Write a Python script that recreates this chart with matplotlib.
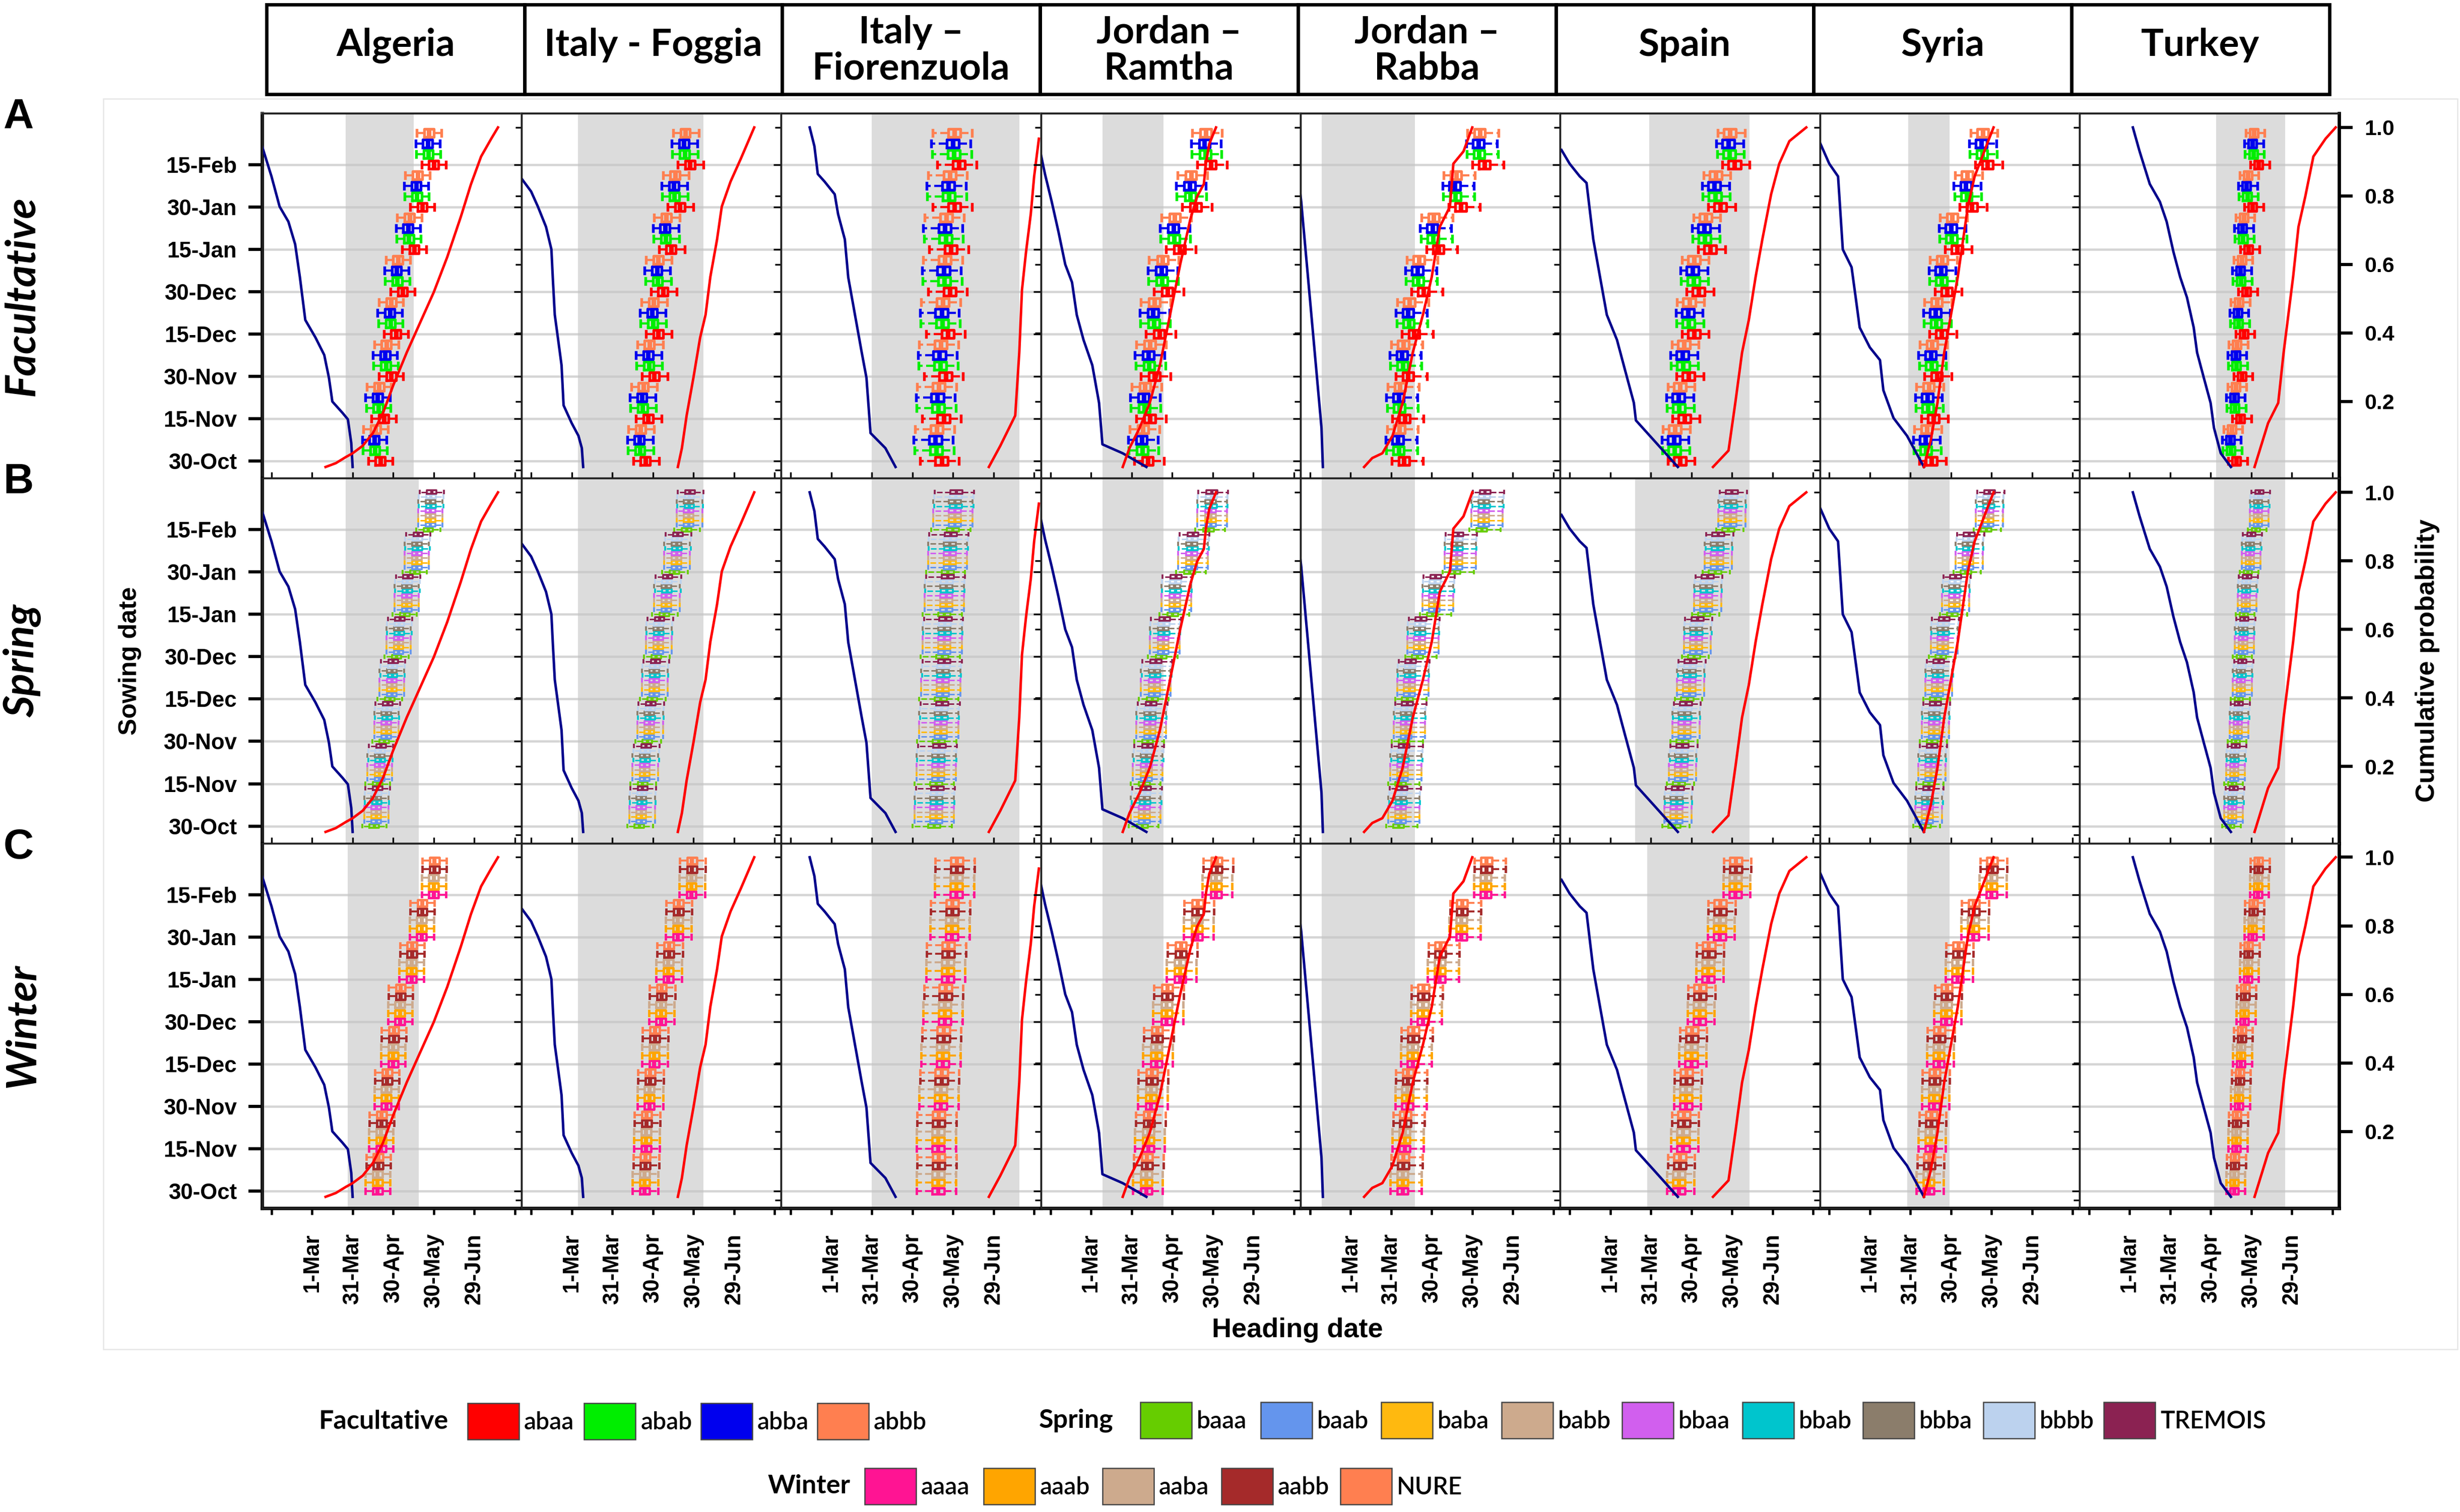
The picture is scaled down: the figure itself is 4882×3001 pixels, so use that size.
"""
Heading date boxplots per site and growth habit, with cumulative
probability curves of the last frost (blue) and heat stress (red).
"""

import matplotlib.pyplot as plt
from matplotlib.patches import Rectangle

plt.rcParams["font.family"] = ["Liberation Sans", "DejaVu Sans"]

# ---------------------------------------------------------------- data
SITES = ["Algeria", "Italy - Foggia", "Italy –\nFiorenzuola", "Jordan –\nRamtha",
         "Jordan –\nRabba", "Spain", "Syria", "Turkey"]
ROWS = ["Facultative", "Spring", "Winter"]
ROW_LETTERS = ["A", "B", "C"]

SOWING_LABELS = ["30-Oct", "15-Nov", "30-Nov", "15-Dec", "30-Dec", "15-Jan", "30-Jan", "15-Feb"]
HEADING_TICKS = [30, 60, 90, 120, 150, 180, 210]          # day of year
HEADING_LABELS = ["", "1-Mar", "31-Mar", "30-Apr", "30-May", "29-Jun", ""]
PROB_TICKS = [0.2, 0.4, 0.6, 0.8, 1.0]

FAC_NAMES = ["abaa", "abab", "abba", "abbb"]
FAC_COLORS = ["#ff0000", "#00ee00", "#0000ee", "#ff7f50"]
SPR_NAMES = ["baaa", "baab", "baba", "babb", "bbaa", "bbab", "bbba", "bbbb", "TREMOIS"]
SPR_COLORS = ["#66cd00", "#6495ed", "#ffb90f", "#cdaa8d", "#d15fee", "#00c5cd",
              "#8b7d6b", "#bcd2ee", "#8b2252"]
WIN_NAMES = ["aaaa", "aaab", "aaba", "aabb", "NURE"]
WIN_COLORS = ["#ff1493", "#ffa500", "#cdaa8d", "#a52a2a", "#ff7f50"]

# genotype shift of the median heading date (days)
FAC_SHIFT = [3, -1, -1.5, -0.5]
SPR_SHIFT = [-1.5, 0, 0, 0, 0, 0.5, 0, 0.5, 1]
WIN_SHIFT = [0, 0, 0, 0.5, 0.5]

# median heading date (day of year) per site and sowing date
MED_FAC = [
    [107.5, 110, 115.5, 119, 124, 132.5, 138.5, 147],
    [111.5, 113.5, 118, 121, 124.5, 130.5, 137, 144.5],
    [138.5, 140, 141.5, 143, 144.5, 145.5, 148, 151.5],
    [99, 100.5, 104, 107.5, 113.5, 122.5, 134.5, 145.5],
    [96.5, 97, 99.5, 104, 111, 122, 138.5, 156],
    [108.5, 112, 115, 119, 122.5, 131, 138.5, 149],
    [102.5, 104, 106.5, 110, 114, 121.5, 132.5, 144],
    [136, 139, 140, 141.5, 143.5, 145, 148, 152.5],
]
MED_SPR = [
    [107.5, 110, 115, 119, 124, 130, 137.5, 147.5],
    [111.5, 114, 117.5, 121, 124, 130, 137.5, 146.5],
    [137.5, 139, 141, 142.5, 143.5, 145, 147.5, 151.5],
    [99.5, 101, 103.5, 107, 113.5, 122, 134.5, 148.5],
    [97, 98.5, 101, 103.5, 111, 122, 138.5, 158.5],
    [109, 112.5, 115, 118.5, 123.5, 131, 139, 149],
    [102.5, 105, 107.5, 110, 114, 122.5, 132.5, 147.5],
    [136, 137.5, 140, 142.5, 144, 146, 149, 155],
]
MED_WIN = [
    [108.5, 111, 115, 120, 125, 133.5, 141, 150],
    [114, 115, 117.5, 121, 126, 131.5, 138.5, 148.5],
    [139, 139, 141, 142.5, 144, 146, 149, 152.5],
    [101, 102.5, 104.5, 108.5, 116, 126, 138.5, 152.5],
    [98.5, 100, 102, 106, 113.5, 126, 142, 160],
    [111, 114, 116, 120, 126, 132.5, 141, 152.5],
    [103.5, 105, 107.5, 111, 116.5, 125, 136.5, 150],
    [137.5, 139, 141, 142.5, 145, 147.5, 151, 155],
]

# box and whisker extent around the median, per site (days)
Q1_OFF = [-3.5, -3.5, -4.5, -4, -4, -4.5, -4, -3]
Q3_OFF = [3.5, 3.5, 4.5, 4, 4, 4.5, 4, 3]
WLO_OFF = [-9, -9, -16, -10, -9, -9, -9, -6]
WHI_OFF = [9, 10, 13, 12, 14, 11, 11, 8]

# optimal flowering window (day of year) per row and site
SHADE_LO = [
    [85, 64.5, 90, 68.5, 38.5, 89, 88.5, 124],
    [85, 64.5, 90, 68.5, 38.5, 78.5, 88.5, 122.5],
    [86.5, 64.5, 90, 68.5, 38.5, 87.5, 87.5, 122.5],
]
SHADE_HI = [
    [135, 157.5, 199, 113.5, 107.5, 163, 119, 175],
    [139, 157.5, 199, 113.5, 107.5, 163, 119, 175],
    [139, 157.5, 199, 113.5, 107.5, 163, 119, 175],
]

# cumulative probability curves: frost (blue) and heat (red)
BLUE_DAY = [
    [22.5, 30, 36, 42.5, 47.5, 51, 55, 62.5, 69, 72.5, 75, 82.5, 86.5, 89, 90],
    [22.5, 30, 35, 41, 45, 46, 47.5, 50, 52.5, 54, 60, 65, 67.5, 68.5],
    [44, 47.5, 50, 55, 62.5, 65, 70, 72.5, 77.5, 82.5, 86, 89, 100, 107.5],
    [22.5, 26, 31, 36, 41, 46, 49.5, 54.5, 61, 66, 68.5, 83.5, 101],
    [22, 23.5, 26, 28.5, 31, 33.5, 36, 38.5, 39.5],
    [24, 30, 37.5, 42.5, 47.5, 52.5, 57.5, 65, 70, 77.5, 79, 92.5, 110],
    [23.5, 30, 36.5, 40, 46.5, 50, 52.5, 60, 67.5, 70, 77.5, 87.5, 100],
    [62.5, 67.5, 75, 82.5, 87.5, 92.5, 97.5, 102.5, 107.5, 110, 115, 120, 122.5, 127.5, 135],
]
BLUE_P = [
    [0.952, 0.857, 0.769, 0.725, 0.659, 0.563, 0.438, 0.387, 0.336, 0.269, 0.2, 0.167, 0.148, 0.079, 0.009],
    [0.853, 0.813, 0.769, 0.71, 0.644, 0.563, 0.453, 0.38, 0.306, 0.189, 0.137, 0.1, 0.064, 0.009],
    [1.0, 0.945, 0.864, 0.842, 0.805, 0.747, 0.673, 0.563, 0.453, 0.343, 0.269, 0.108, 0.064, 0.009],
    [0.93, 0.864, 0.783, 0.695, 0.6, 0.548, 0.453, 0.38, 0.306, 0.196, 0.075, 0.049, 0.009],
    [0.835, 0.783, 0.673, 0.563, 0.453, 0.343, 0.233, 0.123, 0.009],
    [0.934, 0.894, 0.857, 0.838, 0.673, 0.563, 0.453, 0.38, 0.306, 0.196, 0.145, 0.086, 0.009],
    [0.952, 0.894, 0.857, 0.644, 0.592, 0.49, 0.416, 0.358, 0.321, 0.233, 0.152, 0.1, 0.009],
    [1.0, 0.93, 0.835, 0.783, 0.725, 0.637, 0.563, 0.504, 0.416, 0.343, 0.269, 0.196, 0.123, 0.049, 0.009],
]
RED_DAY = [
    [70, 77.5, 85, 90, 97.5, 105, 112.5, 120, 130, 140, 150, 160, 170, 177.5, 185, 192.5, 197.5],
    [138.5, 141.5, 145, 150, 155, 159, 162.5, 167.5, 171, 177.5, 185, 195],
    [176.5, 185, 196, 199, 201, 204, 207.5, 210, 213.5],
    [83.5, 88.5, 96, 103.5, 111, 118.5, 126, 133.5, 138.5, 143.5, 145, 147.5, 152.5],
    [70, 76, 83.5, 91, 98.5, 106, 113.5, 120, 126, 133.5, 136, 143.5, 150],
    [136, 147.5, 152.5, 157.5, 162.5, 167.5, 172.5, 179, 185, 192.5, 205],
    [100, 105, 110, 115, 120, 125, 129, 132.5, 137.5, 142.5, 147.5, 151.5],
    [152.5, 162.5, 170, 174, 177.5, 181, 185, 190, 196, 205, 212.5],
]
RED_P = [
    [0.009, 0.02, 0.038, 0.049, 0.071, 0.108, 0.167, 0.247, 0.343, 0.431, 0.519, 0.622, 0.739, 0.834, 0.915, 0.967, 1.0],
    [0.009, 0.064, 0.159, 0.269, 0.387, 0.453, 0.563, 0.673, 0.769, 0.842, 0.908, 1.0],
    [0.009, 0.071, 0.159, 0.343, 0.526, 0.637, 0.747, 0.857, 0.967],
    [0.009, 0.064, 0.123, 0.196, 0.306, 0.453, 0.6, 0.732, 0.798, 0.835, 0.894, 0.952, 1.0],
    [0.009, 0.035, 0.049, 0.1, 0.196, 0.343, 0.453, 0.563, 0.71, 0.769, 0.894, 0.93, 1.0],
    [0.009, 0.057, 0.196, 0.343, 0.438, 0.563, 0.673, 0.805, 0.894, 0.96, 1.0],
    [0.009, 0.086, 0.196, 0.343, 0.453, 0.563, 0.673, 0.769, 0.857, 0.908, 0.96, 1.0],
    [0.009, 0.137, 0.196, 0.343, 0.453, 0.563, 0.71, 0.798, 0.915, 0.967, 1.0],
]

# ---------------------------------------------------------------- layout
W, H = 4882, 3001
PANEL_LEFT, PANEL_W = 520, 515.25
ROW_TOP, ROW_H = 225, 724.3
HEAD_LEFT, HEAD_W, HEAD_TOP, HEAD_BOT = 529, 511.7, 9, 187

ROW_MEDS = [MED_FAC, MED_SPR, MED_WIN]
ROW_COLORS = [FAC_COLORS, SPR_COLORS, WIN_COLORS]
ROW_SHIFTS = [FAC_SHIFT, SPR_SHIFT, WIN_SHIFT]
ROW_NAMES = [FAC_NAMES, SPR_NAMES, WIN_NAMES]
BOX_LW = [1.3, 0.9, 1.15]


def fx(x):
    return x / W


def fy(y):
    return 1 - y / H


fig = plt.figure(figsize=(W / 300, H / 300), dpi=300)

# faint frame around the plotting area
fig.patches.append(Rectangle((fx(205), fy(2678)), fx(4877) - fx(205), fy(196) - fy(2678),
                             transform=fig.transFigure, fill=False, ec="#e6e6e6", lw=0.6))

# site headers
for j, site in enumerate(SITES):
    x0 = HEAD_LEFT + j * HEAD_W
    fig.patches.append(Rectangle((fx(x0), fy(HEAD_BOT)), HEAD_W / W, (HEAD_BOT - HEAD_TOP) / H,
                                 transform=fig.transFigure, fill=False, ec="black", lw=1.6))
    ty = 100 if "\n" in site else 90
    fig.text(fx(x0 + HEAD_W / 2), fy(ty), site, ha="center", va="center", family="Lato",
             fontweight="bold", fontsize=18, linespacing=1.05)

for r in range(3):
    top = ROW_TOP + r * ROW_H
    ng = len(ROW_COLORS[r])
    slot = 1.0 / ng
    bw = slot * 0.75
    for j in range(8):
        left = PANEL_LEFT + j * PANEL_W
        ax = fig.add_axes([fx(left), fy(top + ROW_H), PANEL_W / W, ROW_H / H])
        ax.set_xlim(23, 215)
        ax.set_ylim(-0.405, 8.214)
        ax.axvspan(SHADE_LO[r][j], SHADE_HI[r][j], color="#dcdcdc", lw=0, zorder=0)
        for i in range(len(SOWING_LABELS)):
            ax.axhline(i, color="#c4c4c4", alpha=0.7, lw=1.1, zorder=0.5)

        meds = ROW_MEDS[r][j]
        for k, col in enumerate(ROW_COLORS[r]):
            stats = []
            for m0 in meds:
                m = m0 + ROW_SHIFTS[r][k]
                stats.append(dict(med=m, q1=m + Q1_OFF[j], q3=m + Q3_OFF[j],
                                  whislo=m + WLO_OFF[j], whishi=m + WHI_OFF[j], fliers=[]))
            pos = [i + k * slot for i in range(len(meds))]
            lw = BOX_LW[r]
            ax.bxp(stats, positions=pos, widths=bw, capwidths=bw * 0.75,
                   orientation="horizontal", showfliers=False, manage_ticks=False,
                   boxprops=dict(color=col, lw=lw),
                   medianprops=dict(color=col, lw=lw * 1.7),
                   whiskerprops=dict(color=col, lw=lw * 0.8, ls="--"),
                   capprops=dict(color=col, lw=lw),
                   zorder=2)

        # left axis: sowing date
        ax.set_yticks(range(len(SOWING_LABELS)))
        if j == 0:
            ax.set_yticklabels(SOWING_LABELS, fontweight="bold", fontsize=10.5)
            ax.tick_params(axis="y", length=6.5, width=1.5, pad=5.5, direction="out")
        else:
            ax.tick_params(axis="y", left=False, labelleft=False)

        # bottom axis: heading date
        ax.set_xticks(HEADING_TICKS)
        if r == 2:
            ax.set_xticklabels(HEADING_LABELS, rotation=90, fontweight="bold", fontsize=10.5)
            ax.tick_params(axis="x", length=3, width=1.1, pad=9, direction="out")
        else:
            ax.tick_params(axis="x", length=3, width=0.8, direction="in", labelbottom=False)

        # right axis: cumulative probability
        ax2 = ax.twinx()
        ax2.set_ylim(-0.024, 1.041)
        ax2.plot(BLUE_DAY[j], BLUE_P[j], color="#00008b", lw=1.2)
        ax2.plot(RED_DAY[j], RED_P[j], color="#ff0000", lw=1.2)
        if j == 7:
            ax2.set_yticks(PROB_TICKS)
            ax2.set_yticklabels([f"{v:.1f}" for v in PROB_TICKS], fontweight="bold", fontsize=10.3)
            ax2.tick_params(axis="y", length=6.5, width=1.5, pad=5.5, direction="out")
        else:
            ax2.set_yticks([0.0] + PROB_TICKS)
            ax2.tick_params(axis="y", length=3, width=0.8, direction="in", labelright=False)

        for a in (ax, ax2):
            for s in a.spines.values():
                s.set_linewidth(0.8)
                s.set_color("#222222")
        if j == 0:
            ax.spines["left"].set_linewidth(1.6)
            ax.spines["left"].set_color("black")
        if j == 7:
            ax2.spines["right"].set_linewidth(1.6)
            ax2.spines["right"].set_color("black")
        if r == 2:
            ax.spines["bottom"].set_linewidth(1.6)
            ax.spines["bottom"].set_color("black")
        if r == 0:
            ax.spines["top"].set_color("#777777")
            ax.spines["top"].set_linewidth(1.0)

    # row letter and growth habit label
    fig.text(fx(37), fy(top + 8), ROW_LETTERS[r], ha="center", va="center",
             fontweight="bold", fontsize=20)
    fig.text(fx(44), fy(top + ROW_H / 2), ROWS[r], ha="center", va="center", rotation=90,
             family="Lato", fontweight="bold", fontstyle="italic", fontsize=20)

fig.text(fx(258), fy(ROW_TOP + 1.5 * ROW_H), "Sowing date", rotation=90, ha="center",
         va="center", fontweight="bold", fontsize=12)
fig.text(fx(4817), fy(ROW_TOP + 1.5 * ROW_H), "Cumulative probability", rotation=90,
         ha="center", va="center", fontweight="bold", fontsize=12.5)
fig.text(fx(2575), fy(2640), "Heading date", ha="center", va="center",
         fontweight="bold", fontsize=13)

# ---------------------------------------------------------------- legend
SW_W, SW_H = 102, 72


def legend_group(label, label_right, y, first_left, step, names, colors):
    fig.text(fx(label_right), fy(y), label, ha="right", va="center", family="Lato",
             fontweight="bold", fontsize=12.5)
    for k, (name, col) in enumerate(zip(names, colors)):
        x0 = first_left + k * step
        fig.patches.append(Rectangle((fx(x0), fy(y + SW_H / 2)), SW_W / W, SW_H / H,
                                     transform=fig.transFigure, fc=col, ec="#444444", lw=0.6))
        fig.text(fx(x0 + SW_W + 10), fy(y + 2), name, ha="left", va="center",
                 family="Lato", fontweight="semibold", fontsize=11.5)


legend_group("Facultative", 890, 2821, 928, 231.3, FAC_NAMES, FAC_COLORS)
legend_group("Spring", 2210, 2819, 2263, 239, SPR_NAMES, SPR_COLORS)
legend_group("Winter", 1688, 2950, 1716, 236, WIN_NAMES, WIN_COLORS)

fig.savefig("out.png", dpi=300)
